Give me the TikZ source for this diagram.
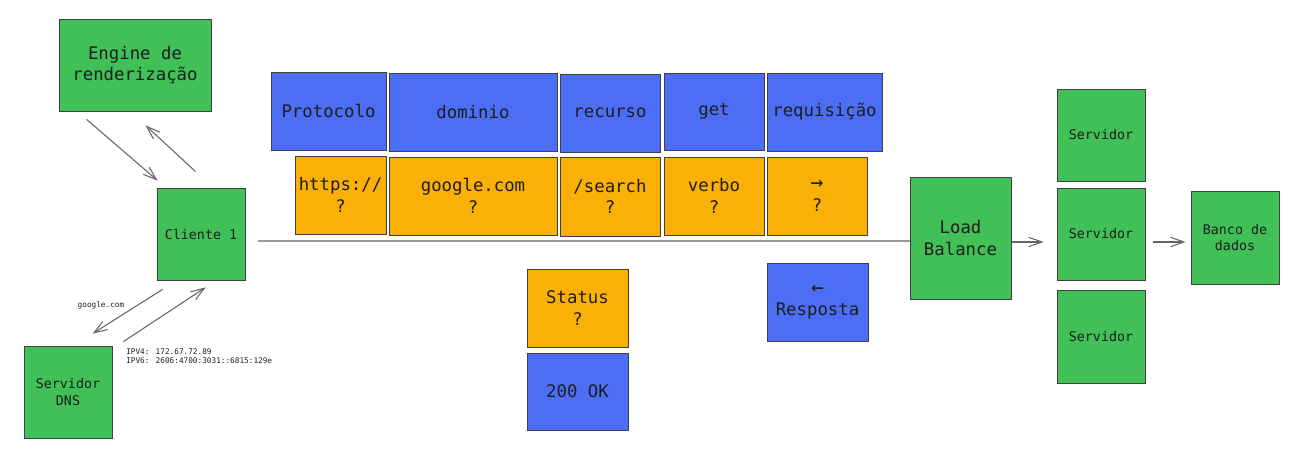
\documentclass[tikz,border=0pt]{standalone}
\usepackage{fontspec}
\setmainfont{DejaVu Sans Mono}
\usepackage{tikz}
\usetikzlibrary{arrows.meta,calc}

\definecolor{verde}{HTML}{40C057}
\definecolor{azul}{HTML}{4C6EF5}
\definecolor{laranja}{HTML}{FAB005}
\definecolor{tinta}{HTML}{1E1E1E}

\newcommand{\txtbig}{\fontsize{13}{16}\selectfont}
\newcommand{\txtmid}{\fontsize{10}{12.5}\selectfont}
\newcommand{\txtsmall}{\fontsize{5.8}{7}\selectfont}

\begin{document}
\begin{tikzpicture}
		[x=0.75pt,y=-0.75pt,
		bx/.style 2 args= {draw=black!75,line width=0.6pt,inner sep=0pt,align=center,text=tinta,
			minimum width=#1*0.75pt,minimum height=#2*0.75pt},
		g/.style= {fill=verde},
		b/.style= {fill=azul,font=\txtbig},
		o/.style= {fill=laranja,font=\txtbig},
		arr/.style= {draw=black!60,line width=0.8pt,-{Straight Barb[length=10pt,width=7pt]}},
		lbl/.style= {inner sep=0pt,text=tinta,font=\txtsmall}]

		\useasboundingbox (0,0) rectangle (1299,470);

		% cliente, engine e DNS
		\node[bx={152}{92},g,font=\txtbig] (engine) at (135,65) {Engine de\\renderização};
		\node[bx={88}{92},g,font=\txtmid] (cliente) at (201,234) {Cliente 1};
		\node[bx={88}{92},g,font=\txtmid] (dns) at (68,392) {Servidor\\DNS};

		\draw[arr] ($(engine.south west)+(28,8)$) -- ($(cliente.north west)+(1,-7)$);
		\draw[arr] ($(cliente.north west)+(39,-16)$) -- ($(engine.south west)+(87,14)$);
		\draw[arr] ($(cliente.south west)+(6,9)$) -- ($(dns.north west)+(69,-12)$);
		\draw[arr] ($(dns.north east)+(11,-4)$) -- ($(cliente.south west)+(49,7)$);

		\node[lbl] (nome) at (101,305) {google.com};
		\node[lbl,anchor=north west,align=left] (ips) at (126,348)
			{IPV4: 172.67.72.89\\IPV6: 2606:4700:3031::6815:129e};

		% requisicao
		\node[bx={115}{78},b] (prot) at (328.5,111) {Protocolo};
		\node[bx={168}{78},b] (dom) at (473,112) {dominio};
		\node[bx={100}{78},b] (rec) at (610,113) {recurso};
		\node[bx={100}{77},b] (get) at (714,111.5) {get};
		\node[bx={115}{78},b] (req) at (824.5,112) {requisição};

		\node[bx={91}{78},o] (https) at (340.5,195) {https://\\?};
		\node[bx={168}{78},o] (gcom) at (473,196) {google.com\\?};
		\node[bx={100}{79},o] (search) at (610,196.5) {/search\\?};
		\node[bx={100}{78},o] (verbo) at (714,196) {verbo\\?};
		\node[bx={100}{78},o] (seta) at (817,196) {{\fontsize{16}{16}\selectfont →}\\?};

		% resposta
		\node[bx={101}{78},o] (status) at (577.5,308) {Status\\?};
		\node[bx={101}{77},b] (ok) at (577.5,391.5) {200 OK};
		\node[bx={101}{78},b] (resp) at (817.5,302) {{\fontsize{16}{16}\selectfont ←}\\Resposta};

		% servidores
		\node[bx={101}{122},g,font=\txtbig] (lb) at (960.5,238) {Load\\Balance};
		\node[bx={88}{92},g,font=\txtmid] (srv1) at (1101,135) {Servidor};
		\node[bx={88}{92},g,font=\txtmid] (srv2) at (1101,234) {Servidor};
		\node[bx={88}{93},g,font=\txtmid] (srv3) at (1101,336.5) {Servidor};
		\node[bx={88}{93},g,font=\txtmid] (banco) at (1235,237.5) {Banco de\\dados};

		\draw[draw=black!40,line width=1.3pt] ($(cliente.east)+(13,7)$) coordinate (ini) -- (ini -| lb.west);
		\draw[arr] ($(lb.east)+(1,4)$) -- ($(lb.east -| srv2.west)+(-13,4)$);
		\draw[arr] ($(srv2.east)+(8,8)$) -- ($(banco.west)+(-5,4.5)$);

	\end{tikzpicture}
\end{document}
